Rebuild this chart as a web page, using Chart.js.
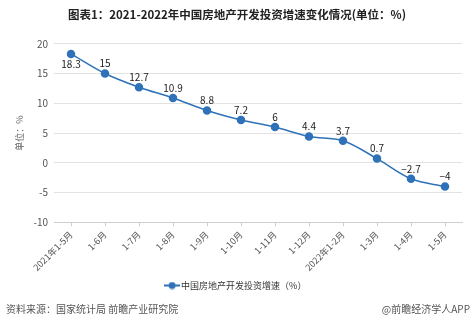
<!DOCTYPE html>
<html>
<head>
<meta charset="utf-8">
<script src="https://cdn.jsdelivr.net/npm/chart.js@4.4.1/dist/chart.umd.min.js"></script>
<style>
  html, body { margin: 0; padding: 0; background: #fff; }
  #wrap { width: 474px; height: 324px; position: relative; }
</style>
</head>
<body>
<div id="wrap"><canvas id="investChart" width="474" height="324"></canvas></div>
<script>
// 月份与增速 (%)
const months = ['2021年1-5月', '1-6月', '1-7月', '1-8月', '1-9月', '1-10月', '1-11月', '1-12月', '2022年1-2月', '1-3月', '1-4月', '1-5月'];
const growth = [18.3, 15, 12.7, 10.9, 8.8, 7.2, 6, 4.4, 3.7, 0.7, -2.7, -4];
const yTicks = [-10, -5, 0, 5, 10, 15, 20];

const FONT = '"Noto Sans CJK SC", "Microsoft YaHei", sans-serif';
const BLUE = '#2f72b8';

// legend marker: short line with a dot in the middle
const marker = document.createElement('canvas');
marker.width = 16;
marker.height = 8;
(function () {
    const c = marker.getContext('2d');
    c.strokeStyle = BLUE;
    c.lineWidth = 2;
    c.beginPath();
    c.moveTo(0, 4);
    c.lineTo(16, 4);
    c.stroke();
    c.fillStyle = BLUE;
    c.beginPath();
    c.arc(8, 4, 3.5, 0, Math.PI * 2);
    c.fill();
})();

// value labels above each point (first one sits below)
const valueLabels = {
    id: 'valueLabels',
    afterDatasetsDraw(chart) {
        const ctx = chart.ctx;
        const meta = chart.getDatasetMeta(0);
        ctx.save();
        ctx.font = '10px ' + FONT;
        ctx.fillStyle = '#222';
        ctx.textAlign = 'center';
        meta.data.forEach((pt, i) => {
            const v = growth[i];
            const txt = v < 0 ? '\u2212' + Math.abs(v) : String(v);
            if (i === 0) {
                ctx.textBaseline = 'top';
                ctx.fillText(txt, pt.x, pt.y + 5);
            } else {
                ctx.textBaseline = 'bottom';
                ctx.fillText(txt, pt.x, pt.y - 5);
            }
        });
        ctx.restore();
    }
};

// source line at the bottom
const footer = {
    id: 'footer',
    afterDraw(chart) {
        const ctx = chart.ctx;
        ctx.save();
        ctx.font = '10px ' + FONT;
        ctx.fillStyle = '#555';
        ctx.textBaseline = 'middle';
        ctx.textAlign = 'left';
        ctx.fillText('资料来源：国家统计局 前瞻产业研究院', 6, 309);
        ctx.textAlign = 'right';
        ctx.fillText('@前瞻经济学人APP', 470, 309);
        ctx.restore();
    }
};

new Chart(document.getElementById('investChart'), {
    type: 'line',
    data: {
        labels: months,
        datasets: [{
            label: '中国房地产开发投资增速（%）',
            data: growth,
            borderColor: BLUE,
            backgroundColor: BLUE,
            borderWidth: 1.5,
            pointRadius: 3.5,
            pointHoverRadius: 3.5,
            pointBackgroundColor: BLUE,
            pointBorderColor: BLUE,
            tension: 0.4,
            cubicInterpolationMode: 'monotone'
        }]
    },
    options: {
        responsive: false,
        animation: false,
        layout: { padding: { left: 12, right: 12, top: 2, bottom: 24 } },
        plugins: {
            title: {
                display: true,
                text: '图表1：2021-2022年中国房地产开发投资增速变化情况(单位：%)',
                color: '#222',
                font: { family: FONT, size: 11.5, weight: 'bold' },
                padding: { top: 6, bottom: 22 }
            },
            legend: {
                position: 'bottom',
                labels: {
                    usePointStyle: true,
                    pointStyle: marker,
                    color: '#333',
                    font: { family: FONT, size: 9 },
                    padding: 5
                }
            },
            tooltip: { enabled: false }
        },
        scales: {
            x: {
                offset: true,
                grid: { display: true, drawOnChartArea: false, drawTicks: true, tickLength: 4, color: '#cfcfcf' },
                border: { color: '#cfcfcf' },
                ticks: {
                    color: '#555',
                    font: { family: FONT, size: 9 },
                    maxRotation: 45,
                    minRotation: 45,
                    autoSkip: false
                }
            },
            y: {
                min: -10,
                max: 20,
                afterBuildTicks(axis) { axis.ticks = yTicks.map(v => ({ value: v })); },
                afterFit(axis) { axis.width = 42; },
                grid: { color: '#e3e3e3', drawTicks: false },
                border: { display: false },
                ticks: { color: '#555', font: { family: FONT, size: 10 }, padding: 6 },
                title: {
                    display: true,
                    text: '单位：%',
                    color: '#666',
                    font: { family: FONT, size: 9 },
                    padding: 2
                }
            }
        }
    },
    plugins: [valueLabels, footer]
});
</script>
</body>
</html>
